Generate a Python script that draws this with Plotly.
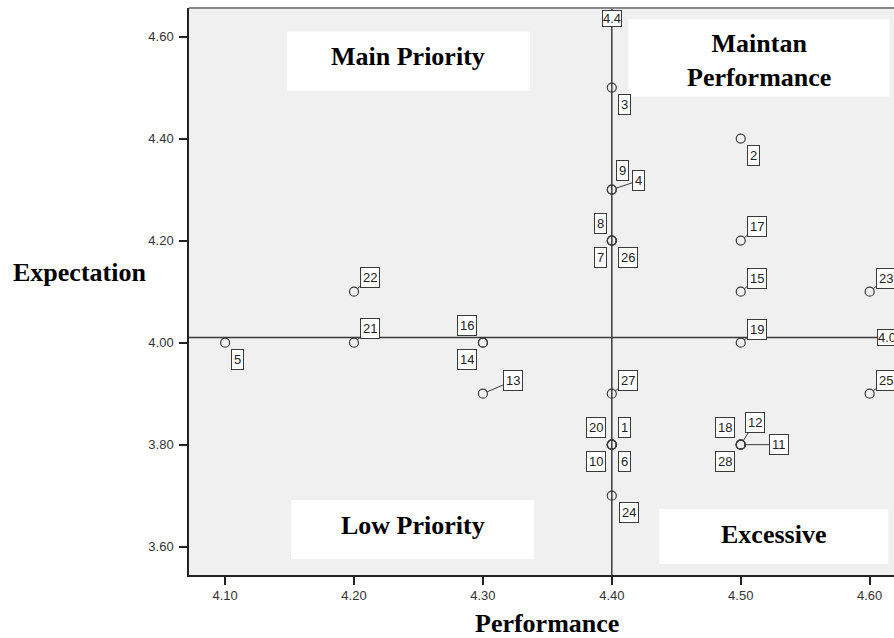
import plotly.graph_objects as go

# ---------------- data ----------------
case_ids = list(range(1, 29))
performance = [4.4, 4.5, 4.4, 4.4, 4.1, 4.4, 4.4, 4.4, 4.4, 4.4,
               4.5, 4.5, 4.3, 4.3, 4.5, 4.3, 4.5, 4.5, 4.5, 4.4,
               4.2, 4.2, 4.6, 4.4, 4.6, 4.4, 4.4, 4.5]
expectation = [3.8, 4.4, 4.5, 4.3, 4.0, 3.8, 4.2, 4.2, 4.3, 3.8,
               3.8, 3.8, 3.9, 4.0, 4.1, 4.0, 4.2, 3.8, 4.0, 3.8,
               4.0, 4.1, 4.1, 3.7, 3.9, 4.2, 3.9, 3.8]
perf_ref = 4.40
exp_ref = 4.01
x_ticks = [4.10, 4.20, 4.30, 4.40, 4.50, 4.60]
y_ticks = [3.60, 3.80, 4.00, 4.20, 4.40, 4.60]
quadrant_names = ["Main Priority", "Maintan<br>Performance", "Low Priority", "Excessive"]

# ---------------- layout geometry (pixels) ----------------
W, H = 894, 638
ML, MT, MB = 189, 8, 63
PW, PH = W - ML, H - MT - MB


def px_x(p):
    return (p - ML) / PW


def px_y(p):
    return (MT + PH - p) / PH


label_offsets = {
    1: (12.3, -16.7), 2: (13, 17), 3: (12.3, 17), 4: (27, -9), 5: (12.3, 17),
    6: (12.3, 17), 7: (-11.7, 17), 8: (-11.7, -17), 9: (11, -19.5), 10: (-15.7, 17),
    11: (38, 0), 12: (14.3, -22.5), 13: (30.3, -13), 14: (-15.7, 17), 15: (16.7, -13.4),
    16: (-15.7, -17), 17: (16.7, -13.7), 18: (-15.7, -16.7), 19: (16.7, -13), 20: (-15.7, -16.7),
    21: (16.3, -14), 22: (16.3, -13.7), 23: (16.7, -13.4), 24: (16.7, 17), 25: (16.7, -13),
    26: (16.5, 17), 27: (16.5, -13), 28: (-15.7, 17),
}
leader_ids = {4, 11, 12, 13, 15, 17, 19, 21, 22, 23, 25, 27}

# quadrant boxes (x0, x1, y0, y1) and text centres (x, y), pixels
quad_boxes = [
    (286.7, 530, 31.7, 90.7),
    (628.3, 889.3, 19, 96.7),
    (291, 534, 500, 559),
    (659, 888.3, 509, 564),
]
quad_text_pos = [(408.3, 56.5), (758.8, 60.3), (412.5, 525.3), (773.5, 534.3)]

DARK = "#3a3a3a"
SANS = "Liberation Sans, Arial"
SERIF = "Liberation Serif, Times New Roman"

fig = go.Figure()
fig.add_trace(go.Scatter(
    x=performance, y=expectation, mode="markers",
    marker=dict(symbol="circle-open", size=9, color=DARK, line=dict(width=1.2, color=DARK)),
    hoverinfo="skip", showlegend=False,
))

annotations = []
for cid, px, ey in zip(case_ids, performance, expectation):
    ax, ay = label_offsets[cid]
    annotations.append(dict(
        x=px, y=ey, xref="x", yref="y", text=str(cid),
        showarrow=True, arrowhead=0, arrowwidth=1, standoff=4.5,
        arrowcolor=DARK if cid in leader_ids else "rgba(0,0,0,0)",
        ax=ax, ay=ay,
        font=dict(family=SANS, size=13, color="#222"),
        bgcolor="white", bordercolor=DARK, borderwidth=1, borderpad=2,
    ))

# reference-line labels
annotations.append(dict(
    x=perf_ref, y=px_y(10), xref="x", yref="paper", xanchor="center", yanchor="top",
    text=f"{perf_ref:g}", showarrow=False,
    font=dict(family=SANS, size=13, color="#222"),
    bgcolor="white", bordercolor=DARK, borderwidth=1, borderpad=0,
))
annotations.append(dict(
    x=px_x(876.7), y=exp_ref, xref="paper", yref="y", xanchor="left", yanchor="middle",
    text=f"{exp_ref:g}", showarrow=False,
    font=dict(family=SANS, size=13, color="#222"),
    bgcolor="white", bordercolor=DARK, borderwidth=1, borderpad=0,
))

shapes = []
for name, (x0, x1, y0, y1), (tx, ty) in zip(quadrant_names, quad_boxes, quad_text_pos):
    shapes.append(dict(
        type="rect", xref="paper", yref="paper",
        x0=px_x(x0), x1=px_x(x1), y0=px_y(y1), y1=px_y(y0),
        fillcolor="white", line=dict(width=0), layer="below",
    ))
    annotations.append(dict(
        x=px_x(tx), y=px_y(ty), xref="paper", yref="paper", xanchor="center", yanchor="middle",
        text=f"<b>{name}</b>", showarrow=False,
        font=dict(family=SERIF, size=26, color="black"),
    ))

# axis titles
annotations.append(dict(
    x=px_x(546.5), y=px_y(623), xref="paper", yref="paper", xanchor="center", yanchor="middle",
    text="<b>Performance</b>", showarrow=False,
    font=dict(family=SERIF, size=26, color="black"),
))
annotations.append(dict(
    x=px_x(79.2), y=px_y(272.3), xref="paper", yref="paper", xanchor="center", yanchor="middle",
    text="<b>Expectation</b>", showarrow=False,
    font=dict(family=SERIF, size=26, color="black"),
))

shapes += [
    dict(type="line", xref="x", yref="paper", x0=perf_ref, x1=perf_ref, y0=0, y1=1,
         line=dict(color=DARK, width=1.5), layer="above"),
    dict(type="line", xref="paper", yref="y", x0=0, x1=1, y0=exp_ref, y1=exp_ref,
         line=dict(color=DARK, width=1.5), layer="above"),
    dict(type="line", xref="paper", yref="paper", x0=0, x1=1, y0=1, y1=1,
         line=dict(color="#888888", width=2), layer="above"),
]

axis_common = dict(
    showgrid=False, zeroline=False, showline=True, linecolor="#222", linewidth=1.5,
    ticks="outside", ticklen=8, tickwidth=1.5, tickcolor="#222", tickformat=".2f",
    tickfont=dict(family=SANS, size=13, color="#333"),
)

fig.update_layout(
    width=W, height=H,
    margin=dict(l=ML, r=0, t=MT, b=MB),
    paper_bgcolor="white", plot_bgcolor="#f0f0f0",
    annotations=annotations, shapes=shapes,
    font=dict(family=SANS, size=12, color="#333"),
    xaxis=dict(range=[4.072, 4.6189], tickvals=x_ticks, **axis_common),
    yaxis=dict(range=[3.5445, 4.656], tickvals=y_ticks, ticklabelstandoff=3, **axis_common),
)

fig.write_html("out.html", config={"displayModeBar": False},
               post_script="document.body.style.margin='0px';")
